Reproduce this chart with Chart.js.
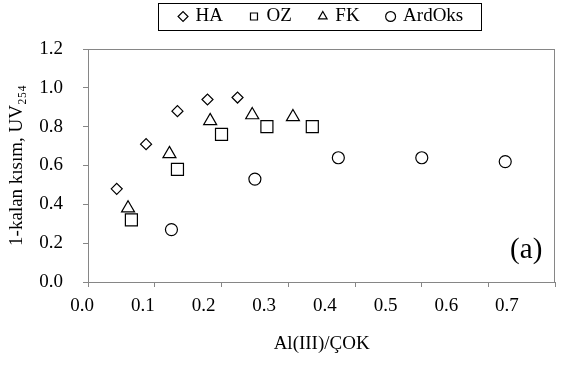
<!DOCTYPE html>
<html>
<head>
<meta charset="utf-8">
<script src="https://cdn.jsdelivr.net/npm/chart.js@4.4.0/dist/chart.umd.min.js"></script>
<style>
  html, body { margin: 0; padding: 0; background: #fff; overflow: hidden; }
  #wrap { width: 565px; height: 367px; overflow: hidden; }
  #chart { display: block; }
</style>
</head>
<body>
<div id="wrap"><canvas id="chart"></canvas></div>
<script>
// values
const haX = [0.043, 0.087, 0.134, 0.179, 0.224];
const haY = [0.48, 0.71, 0.88, 0.94, 0.95];
const ozX = [0.065, 0.134, 0.200, 0.268, 0.336];
const ozY = [0.32, 0.58, 0.76, 0.80, 0.80];
const fkX = [0.060, 0.122, 0.183, 0.246, 0.307];
const fkY = [0.38, 0.66, 0.83, 0.86, 0.85];
const aoX = [0.125, 0.250, 0.375, 0.500, 0.625];
const aoY = [0.27, 0.53, 0.64, 0.64, 0.62];
const xTickLabels = [0.0, 0.1, 0.2, 0.3, 0.4, 0.5, 0.6, 0.7];
const seriesNames = ['HA', 'OZ', 'FK', 'ArdOks'];

const serif = "'Times New Roman', 'Liberation Serif', 'DejaVu Serif', serif";
const axisGray = '#868686';
const fontSize = 19;
const legendGap = 28;

const toPoints = (xs, ys) => xs.map((x, i) => ({ x: x, y: ys[i] }));

function series(name, xs, ys, style, radius) {
    return {
        label: name,
        data: toPoints(xs, ys),
        xAxisID: 'x',
        yAxisID: 'y',
        showLine: false,
        pointStyle: style,
        pointRadius: radius,
        pointHoverRadius: radius,
        pointBorderWidth: 1.2,
        borderColor: '#000',
        backgroundColor: '#fff',
    };
}

// box around the legend + frame around the plot + "(a)" tag
const decorations = {
    id: 'decorations',
    beforeInit(chart) {
        const fit = chart.legend.fit;
        chart.legend.fit = function () {
            fit.call(this);
            // legend starts above the canvas (negative top padding) so its items sit high
            this.height = 49 + (legendGap - 7);
        };
    },
    afterDraw(chart) {
        const ctx = chart.ctx;
        const a = chart.chartArea;
        ctx.save();
        ctx.strokeStyle = axisGray;
        ctx.lineWidth = 1;
        ctx.strokeRect(Math.round(a.left) + 0.5, Math.round(a.top) + 0.5,
            Math.round(a.right - a.left) - 1, Math.round(a.bottom - a.top));

        const hb = chart.legend.legendHitBoxes;
        if (hb && hb.length) {
            const l = Math.min(...hb.map(b => b.left)) - 22;
            const r = Math.max(...hb.map(b => b.left + b.width)) + 18;
            ctx.strokeStyle = '#000';
            ctx.strokeRect(Math.round(l) + 0.5, 3.5, Math.round(r - l), 27);
        }

        ctx.fillStyle = '#000';
        ctx.font = '29px ' + serif;
        ctx.textAlign = 'right';
        ctx.textBaseline = 'alphabetic';
        ctx.fillText('(a)', a.right - 13, a.bottom - 24);
        ctx.restore();
    }
};

new Chart(document.getElementById('chart'), {
    type: 'scatter',
    data: {
        datasets: [
            series(seriesNames[0], haX, haY, 'rectRot', 5.5),
            series(seriesNames[1], ozX, ozY, 'rect', 8.5),
            series(seriesNames[2], fkX, fkY, 'triangle', 7.5),
            series(seriesNames[3], aoX, aoY, 'circle', 6),
        ]
    },
    options: {
        responsive: true,
        maintainAspectRatio: false,
        animation: false,
        layout: { padding: { left: 0, right: 2, top: 7 - legendGap, bottom: 0 } },
        plugins: {
            tooltip: { enabled: false },
            legend: {
                position: 'top',
                fullSize: false,
                labels: {
                    usePointStyle: true,
                    boxWidth: 6,
                    boxHeight: 7,
                    padding: legendGap,
                    color: '#000',
                    font: { family: serif, size: fontSize },
                }
            }
        },
        scales: {
            x: {
                type: 'linear',
                position: 'bottom',
                weight: 0,
                min: 0,
                max: 0.7,
                ticks: { display: false, stepSize: 0.1 },
                grid: { drawOnChartArea: false, drawTicks: true, tickLength: 5, color: axisGray },
                border: { display: false },
                afterFit(scale) { scale.height = 5; }
            },
            // second bottom axis only carries the (slightly compressed) labels of the original
            xl: {
                type: 'linear',
                position: 'bottom',
                weight: 1,
                min: 0.0097,
                max: 0.7796,
                afterBuildTicks(scale) {
                    scale.ticks = xTickLabels.map(v => ({ value: v }));
                },
                ticks: {
                    autoSkip: false,
                    maxRotation: 0,
                    padding: 0,
                    color: '#000',
                    font: { family: serif, size: fontSize },
                    callback: v => Number(v).toFixed(1)
                },
                grid: { display: false },
                border: { display: false },
                title: {
                    display: true,
                    text: 'Al(III)/ÇOK',
                    color: '#000',
                    font: { family: serif, size: fontSize },
                    padding: { top: 0, bottom: 12 }
                },
                afterFit(scale) {
                    scale.height = 80;
                    scale.paddingLeft = 0;
                    scale.paddingRight = 0;
                }
            },
            y: {
                type: 'linear',
                min: 0,
                max: 1.2,
                ticks: {
                    stepSize: 0.2,
                    padding: 20,
                    color: '#000',
                    font: { family: serif, size: fontSize },
                    callback: v => Number(v).toFixed(1)
                },
                grid: { drawOnChartArea: false, drawTicks: true, tickLength: 5, color: axisGray },
                border: { display: false },
                title: {
                    display: true,
                    text: '1-kalan kısım, UV₂₅₄',
                    color: '#000',
                    font: { family: serif, size: fontSize },
                    padding: { top: 6, bottom: 0 }
                },
                afterFit(scale) { scale.width = 88; }
            }
        }
    },
    plugins: [decorations]
});
</script>
</body>
</html>
